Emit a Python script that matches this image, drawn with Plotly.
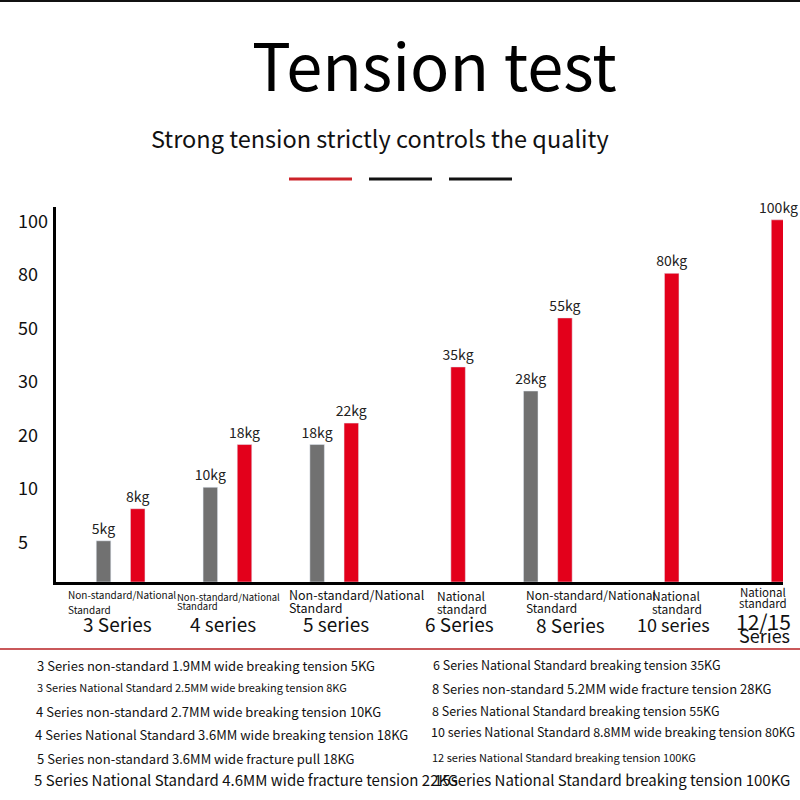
import numpy as np
import plotly.graph_objects as go

# data
series = ["3", "4", "5", "6", "8", "10", "12/15"]
non_standard_kg = [5, 10, 18, None, 28, None, None]
national_kg = [8, 18, 22, 35, 55, 80, 100]
y_tick_kg = [5, 10, 20, 30, 50, 80, 100]

series_labels = ["3 Series", "4 series", "5 series", "6 Series", "8 Series", "10 series", "12/15"]
sub_labels = [
    ["Non-standard/National", "Standard"],
    ["Non-standard/National", "Standard"],
    ["Non-standard/National", "Standard"],
    ["National", "standard"],
    ["Non-standard/National", "Standard"],
    ["National", "standard"],
    ["National", "standard"],
]
notes_left = [
    "3 Series non-standard 1.9MM wide breaking tension 5KG",
    "3 Series National Standard 2.5MM wide breaking tension 8KG",
    "4 Series non-standard 2.7MM wide breaking tension 10KG",
    "4 Series National Standard 3.6MM wide breaking tension 18KG",
    "5 Series non-standard 3.6MM wide fracture pull 18KG",
    "5 Series National Standard 4.6MM wide fracture tension 22KG",
]
notes_right = [
    "6 Series National Standard breaking tension 35KG",
    "8 Series non-standard 5.2MM wide fracture tension 28KG",
    "8 Series National Standard breaking tension 55KG",
    "10 series National Standard 8.8MM wide breaking tension 80KG",
    "12 series National Standard breaking tension 100KG",
    "15series National Standard breaking tension 100KG",
]

FONT = "Noto Sans CJK SC"
GREY = "#717171"
RED = "#e3001b"

# the y axis is not linear: each labelled level sits one step above the last
levels = [0] + y_tick_kg
steps = [0] + list(np.arange(1, len(y_tick_kg) + 1) - 0.23)


def to_axis(kg):
    return None if kg is None else float(np.interp(kg, levels, steps))


def px(x):
    return x / 800


def py(y):
    return 1 - y / 800


fig = go.Figure()
fig.add_trace(go.Bar(
    x=series, y=[to_axis(v) for v in non_standard_kg],
    text=[f"{v}kg" if v is not None else "" for v in non_standard_kg],
    marker_color=GREY, name="Non-standard",
))
fig.add_trace(go.Bar(
    x=series, y=[to_axis(v) for v in national_kg],
    text=[f"{v}kg" for v in national_kg],
    marker_color=RED, name="National standard",
))
fig.update_traces(
    textposition="outside", cliponaxis=False, constraintext="none",
    textfont=dict(family=FONT, size=14, color="#222"), hoverinfo="skip",
)

ann = []
# title and subtitle
ann.append(dict(x=px(434), y=py(63), text="Tension test", font=dict(size=65, color="#000")))
ann.append(dict(x=px(380), y=py(138), text="Strong tension strictly controls the quality",
                font=dict(size=23.5, color="#111")))

# y tick labels, left aligned
for kg in y_tick_kg:
    ann.append(dict(x=px(16), y=to_axis(kg), yref="y", text=str(kg), xanchor="left",
                    font=dict(size=18, color="#111")))

# series labels under the axis
series_pos = [(117, 623, 19), (223, 623, 19), (336, 623, 19), (460, 623, 19),
              (570, 624, 19), (673, 624, 18), (763, 621, 21)]
for lab, (x, y, s) in zip(series_labels, series_pos):
    ann.append(dict(x=px(x), y=py(y), text=lab, font=dict(size=s, color="#111")))
ann.append(dict(x=px(764), y=py(635), text="Series", font=dict(size=18, color="#111")))

sub_pos = [(66, 594, 609, 10, "left"), (175, 597, 606, 9.5, "left"), (287, 594, 607, 12.5, "left"),
           (435, 595, 608, 12, "left"), (524, 594, 607, 12, "left"), (650, 595, 608, 12, "left"),
           (763, 592, 603, 11.5, "center")]
for lines, (x, y1, y2, s, anchor) in zip(sub_labels, sub_pos):
    for txt, y in zip(lines, (y1, y2)):
        ann.append(dict(x=px(x), y=py(y), text=txt, xanchor=anchor, font=dict(size=s, color="#111")))

# notes under the separator
left_pos = [(35, 665, 13), (35, 687, 11), (34, 711, 13), (33, 734, 13), (35, 758, 13), (32, 779, 15)]
right_pos = [(431, 664, 12.5), (430, 688, 13), (430, 710, 12.5), (429, 731, 12.5), (430, 757, 11), (432, 779, 15)]
for txt, (x, y, s) in list(zip(notes_left, left_pos)) + list(zip(notes_right, right_pos)):
    ann.append(dict(x=px(x), y=py(y), text=txt, xanchor="left", font=dict(size=s, color="#111")))

for a in ann:
    a.setdefault("xref", "paper")
    a.setdefault("yref", "paper")
    a.setdefault("xanchor", "center")
    a["yanchor"] = "middle"
    a["showarrow"] = False
    a["font"]["family"] = FONT

shapes = [
    dict(type="line", xref="paper", yref="paper", x0=0, x1=1, y0=py(1), y1=py(1),
         line=dict(color="#111", width=2)),
    dict(type="line", xref="paper", yref="paper", x0=px(289), x1=px(352), y0=py(179), y1=py(179),
         line=dict(color="#cc2229", width=3)),
    dict(type="line", xref="paper", yref="paper", x0=px(369), x1=px(432), y0=py(179), y1=py(179),
         line=dict(color="#111", width=3)),
    dict(type="line", xref="paper", yref="paper", x0=px(449), x1=px(512), y0=py(179), y1=py(179),
         line=dict(color="#111", width=3)),
    dict(type="line", xref="paper", yref="paper", x0=0, x1=1, y0=py(649), y1=py(649),
         line=dict(color="#c9585a", width=2)),
]

fig.update_layout(
    width=800, height=800,
    margin=dict(l=0, r=0, t=0, b=0),
    paper_bgcolor="white", plot_bgcolor="white",
    showlegend=False,
    barmode="group", bargap=0.36, bargroupgap=0.575,
    annotations=ann, shapes=shapes,
    font=dict(family=FONT),
)
fig.update_xaxes(
    type="category", domain=[px(56), px(783)], range=[-0.605, 6.202],
    showticklabels=False, ticks="", showgrid=False, zeroline=False,
    showline=True, linecolor="#000", linewidth=3,
)
fig.update_yaxes(
    domain=[py(582), py(207)], range=[0, 7.01],
    showticklabels=False, ticks="", showgrid=False, zeroline=False,
    showline=True, linecolor="#000", linewidth=3,
)

# the page is exactly the window: drop the default body margin
fig.write_html(
    "out.html",
    config={"displayModeBar": False},
    post_script="document.body.style.margin='0';document.body.style.overflow='hidden';",
)
